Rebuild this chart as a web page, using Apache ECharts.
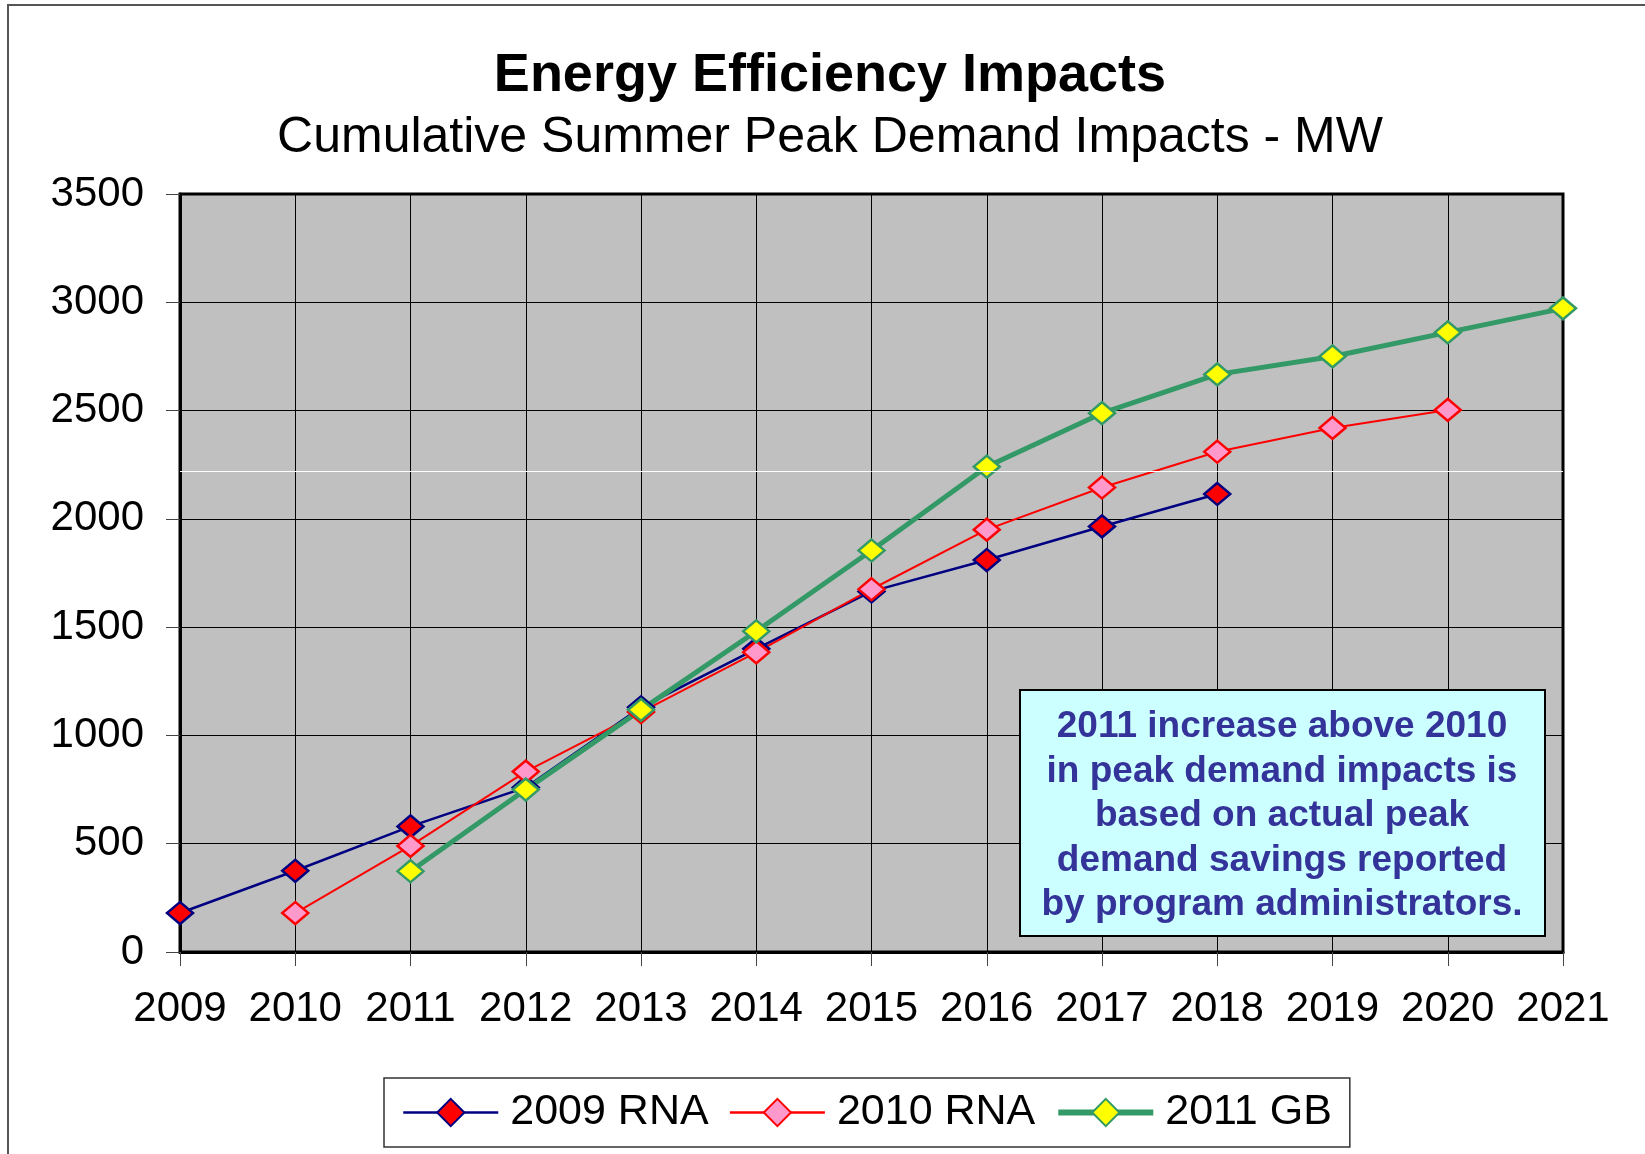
<!DOCTYPE html>
<html>
<head>
<meta charset="utf-8">
<title>Energy Efficiency Impacts</title>
<script src="https://cdn.jsdelivr.net/npm/echarts@6/dist/echarts.min.js"></script>
<style>
    html, body { margin: 0; padding: 0; background: #fff; }
    #chart { width: 1645px; height: 1154px; }
</style>
</head>
<body>
<div id="chart"></div>
<script>
// years on the x axis
var years = ['2009', '2010', '2011', '2012', '2013', '2014', '2015', '2016', '2017', '2018', '2019', '2020', '2021'];
// MW (null = no point that year)
var rna2009 = [180, 375, 580, 760, 1130, 1400, 1665, 1810, 1965, 2115, null, null, null];
var rna2010 = [null, 180, 490, 833, 1108, 1384, 1675, 1950, 2145, 2310, 2420, 2503, null];
var gb2011 = [null, null, 373, 750, 1118, 1481, 1854, 2241, 2488, 2667, 2750, 2861, 2972];
var seriesNames = ['2009 RNA', '2010 RNA', '2011 GB'];
var noteLines = [
    '2011 increase above 2010',
    'in peak demand impacts is',
    'based on actual peak',
    'demand savings reported',
    'by program administrators.'
];

var font = '"Liberation Sans", Arial, sans-serif';
var chart = echarts.init(document.getElementById('chart'));

function lineSeries(name, data, lineColor, lineWidth, fill, border) {
    return {
        name: name,
        type: 'line',
        data: data,
        symbol: 'diamond',
        symbolSize: [26, 22],
        showAllSymbol: true,
        connectNulls: false,
        animation: false,
        lineStyle: { color: lineColor, width: lineWidth },
        itemStyle: { color: fill, borderColor: border, borderWidth: 2.5 }
    };
}

var series = [
    lineSeries(seriesNames[0], rna2009, '#000080', 2.5, '#ff0000', '#000080'),
    lineSeries(seriesNames[1], rna2010, '#ff0000', 2, '#ff99cc', '#ff0000'),
    lineSeries(seriesNames[2], gb2011, '#339966', 5, '#ffff00', '#339966')
];
// faint white line across the plot area in the original
series[0].markLine = {
    silent: true,
    symbol: 'none',
    label: { show: false },
    lineStyle: { color: '#ffffff', width: 1, type: 'solid' },
    data: [{ yAxis: 2222 }]
};

chart.setOption({
    backgroundColor: '#ffffff',
    animation: false,
    textStyle: { fontFamily: font },
    title: [{
        text: 'Energy Efficiency Impacts',
        left: 825,
        textAlign: 'center',
        top: 44,
        textStyle: { fontSize: 54, fontWeight: 'bold', color: '#000', fontFamily: font }
    }, {
        text: 'Cumulative Summer Peak Demand Impacts - MW',
        left: 825,
        textAlign: 'center',
        top: 108,
        textStyle: { fontSize: 50, fontWeight: 'normal', color: '#000', fontFamily: font }
    }],
    grid: {
        left: 180,
        right: 82,
        top: 194,
        bottom: 202,
        show: true,
        backgroundColor: '#c0c0c0',
        borderColor: '#000',
        borderWidth: 3
    },
    xAxis: {
        type: 'category',
        data: years,
        boundaryGap: false,
        axisLine: { lineStyle: { color: '#000', width: 3 } },
        axisTick: { show: true, length: 14, lineStyle: { color: '#444', width: 1 } },
        axisLabel: { fontSize: 42, color: '#000', margin: 36, interval: 0, fontFamily: font },
        splitLine: { show: true, lineStyle: { color: '#000', width: 1 } }
    },
    yAxis: {
        type: 'value',
        min: 0,
        max: 3500,
        interval: 500,
        axisLine: { show: true, lineStyle: { color: '#000', width: 3 } },
        axisTick: { show: true, length: 14, lineStyle: { color: '#444', width: 1 } },
        axisLabel: {
            fontSize: 42, color: '#000', margin: 36, fontFamily: font,
            formatter: function (v) { return String(v); }
        },
        splitLine: { show: true, lineStyle: { color: '#000', width: 1 } }
    },
    legend: {
        data: [
            { name: seriesNames[0], lineStyle: { width: 2.5 } },
            { name: seriesNames[1], lineStyle: { width: 2.5 } },
            { name: seriesNames[2], lineStyle: { width: 6 } }
        ],
        left: 384,
        top: 1078,
        orient: 'horizontal',
        padding: [13, 18],
        itemGap: 20,
        itemWidth: 95,
        itemHeight: 34,
        backgroundColor: '#ffffff',
        borderColor: '#333',
        borderWidth: 1.5,
        selectedMode: false,
        textStyle: { fontSize: 43, color: '#000', fontFamily: font, padding: [0, 0, 0, 7] }
    },
    series: series,
    graphic: [{
        // outer frame edges
        type: 'polyline',
        silent: true,
        shape: { points: [[8, 1154], [8, 5], [1645, 5]] },
        style: { stroke: '#555', lineWidth: 2, fill: null }
    }, {
        type: 'group',
        left: 1019,
        top: 689,
        z: 100,
        children: [{
            type: 'rect',
            z: 100,
            shape: { x: 0, y: 0, width: 525, height: 246 },
            style: { fill: '#ccffff', stroke: '#000', lineWidth: 2 }
        }, {
            type: 'text',
            z: 101,
            x: 262,
            y: 126,
            style: {
                text: noteLines.join('\n'),
                font: 'bold 37px ' + font,
                fill: '#333399',
                align: 'center',
                verticalAlign: 'middle',
                lineHeight: 44.5
            }
        }]
    }]
});
</script>
</body>
</html>
